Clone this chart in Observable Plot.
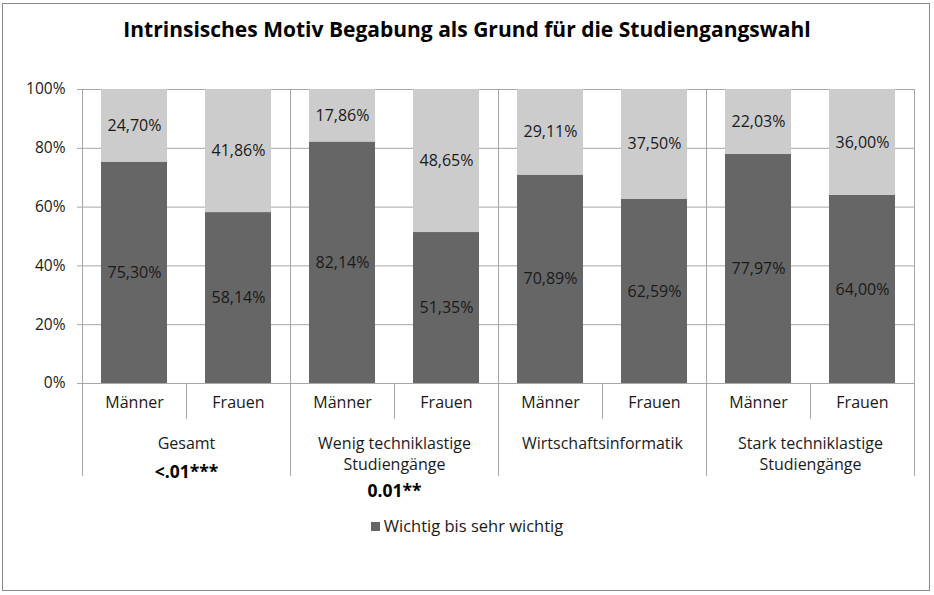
<!DOCTYPE html>
<html>
<head>
<meta charset="utf-8">
<script src="https://cdn.jsdelivr.net/npm/d3@7"></script>
<script src="https://cdn.jsdelivr.net/npm/@observablehq/plot@0.6"></script>
<style>
  html, body { margin: 0; padding: 0; background: #fff; }
  #wrap { position: relative; width: 934px; height: 595px; overflow: hidden; font-family: "Open Sans", sans-serif; }
  #border { position: absolute; left: 2px; top: 3px; width: 928px; height: 588px; border: 1px solid #8a8a8a; box-sizing: border-box; }
  #title { position: absolute; left: 0; top: 0; width: 934px; height: 58px; line-height: 58px; text-align: center; font-weight: bold; font-size: 21px; color: #000; }
  #chart { position: absolute; left: 0; top: 60px; }
  #legend { position: absolute; left: 0; top: 514px; width: 934px; text-align: center; font-size: 16.5px; color: #1a1a1a; }
  #legend .sw { display: inline-block; width: 9px; height: 9px; background: #666666; margin-right: 4px; vertical-align: 1px; }
</style>
</head>
<body>
<div id="wrap">
  <div id="border"></div>
  <div id="title">Intrinsisches Motiv Begabung als Grund für die Studiengangswahl</div>
  <div id="chart"></div>
  <div id="legend"><span class="sw"></span>Wichtig bis sehr wichtig</div>
</div>
<script>
const groups = ["Gesamt", "Wenig techniklastige\nStudiengänge", "Wirtschaftsinformatik", "Stark techniklastige\nStudiengänge"];
const genders = ["Männer", "Frauen"];
const wichtig = [75.30, 58.14, 82.14, 51.35, 70.89, 62.59, 77.97, 64.00];
const weniger = [24.70, 41.86, 17.86, 48.65, 29.11, 37.50, 22.03, 36.00];
const signif = ["<.01***", "0.01**", "", ""];
const yTicks = [0, 0.2, 0.4, 0.6, 0.8, 1];

const rows = wichtig.map((w, i) => ({
  i, group: groups[Math.floor(i / 2)], gender: genders[i % 2],
  w: w / 100, l: weniger[i] / 100
}));
const groupRows = groups.map((g, k) => ({k, g, s: signif[k]}));
const fmt = v => (v).toFixed(2).replace(".", ",") + "%";
const dark = "#666666", light = "#cccccc", grid = "#a8a8a8", txt = "#1a1a1a";
const fs = 16;

const chart = Plot.plot({
  width: 934,
  height: 443,
  marginLeft: 82,
  marginRight: 20,
  marginTop: 29,
  marginBottom: 120,
  style: {fontFamily: "Open Sans, sans-serif", fontSize: "16px", color: txt, background: "transparent"},
  x: {type: "linear", domain: [0, 8], axis: null},
  y: {domain: [0, 1], axis: null},
  marks: [
    Plot.ruleY(yTicks, {stroke: grid, strokeWidth: 1}),
    Plot.rectY(rows, {x1: d => d.i, x2: d => d.i + 1, y1: 0, y2: d => d.w, fill: dark, insetLeft: 19, insetRight: 19}),
    Plot.rectY(rows, {x1: d => d.i, x2: d => d.i + 1, y1: d => d.w, y2: d => Math.min(1, d.w + d.l), fill: light, insetLeft: 19, insetRight: 19}),
    Plot.text(rows, {x: d => d.i + 0.5, y: d => d.w / 2, text: d => fmt(d.w * 100), fill: txt, fontSize: fs}),
    Plot.text(rows, {x: d => d.i + 0.5, y: d => d.w + d.l / 2, text: d => fmt(d.l * 100), fill: txt, fontSize: fs}),
    // y axis
    Plot.axisY({ticks: yTicks, tickFormat: d => Math.round(d * 100) + "%", tickSize: 5, tickPadding: 12, stroke: grid, fill: txt, fontSize: 15.5}),
    // category separators
    Plot.ruleX([1, 3, 5, 7], {x: d => d, stroke: grid, insetTop: 294, insetBottom: -36}),
    Plot.ruleX([0, 2, 4, 6, 8], {x: d => d, stroke: grid, insetBottom: -93}),
    // category labels
    Plot.text(rows, {x: d => d.i + 0.5, frameAnchor: "bottom", dy: 24, text: "gender", fill: txt, fontSize: fs}),
    Plot.text(groupRows, {x: d => d.k * 2 + 1, frameAnchor: "bottom", dy: 50, lineAnchor: "top", lineHeight: 1.32, text: "g", fill: txt, fontSize: fs}),
    Plot.text(groupRows.filter(d => d.k === 0), {x: d => d.k * 2 + 1, frameAnchor: "bottom", dy: 94, text: "s", fill: "#000", fontWeight: "bold", fontSize: 17.5}),
    Plot.text(groupRows.filter(d => d.k === 1), {x: d => d.k * 2 + 1, frameAnchor: "bottom", dy: 113, text: "s", fill: "#000", fontWeight: "bold", fontSize: 17.5})
  ]
});
document.getElementById("chart").appendChild(chart);
</script>
</body>
</html>
